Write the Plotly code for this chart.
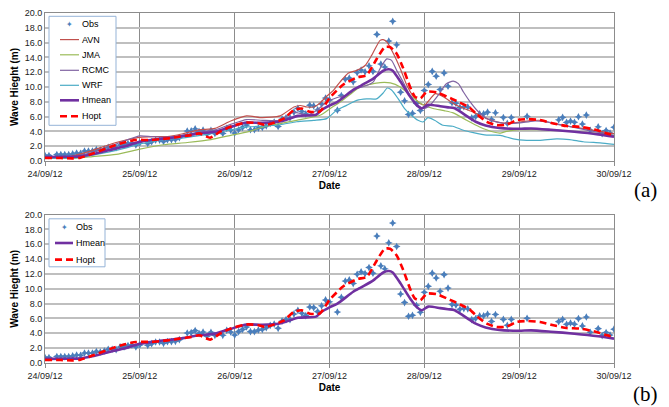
import pandas as pd
import plotly.graph_objects as go

BASE = pd.Timestamp("2012-09-24 00:00")

obs_h = [0, 1, 3, 4, 5, 6, 7, 8, 9, 10, 11, 12, 13, 14, 15, 16, 17, 18, 19, 20, 21, 22, 23, 24,
         26, 27, 28, 29, 30, 31, 32, 33, 34, 36, 37, 38, 39, 40, 41, 42, 43, 45, 46, 47, 48, 49,
         50, 51, 52, 53, 54, 55, 56, 57, 58, 59, 60, 61, 62, 63, 64, 65, 66, 67, 68, 69, 70, 71,
         72, 74, 75, 76, 77, 78, 79, 80, 81, 82, 83, 84, 85, 86, 87, 88, 89, 90, 91, 92, 93, 94,
         95, 96, 97, 98, 99, 100, 101, 102, 103, 104, 105, 106, 107, 108, 109, 110, 111, 112,
         113, 114, 116, 117, 118, 122, 130, 131, 132, 133, 134, 135, 136, 137, 138, 140, 141,
         142, 143, 144]
obs_v = [0.73, 0.73, 0.86, 0.86, 0.86, 0.86, 0.95, 1.08, 1.03, 1.35, 1.35, 1.35, 1.53, 1.48,
         1.62, 1.85, 1.85, 1.80, 2.16, 2.16, 2.34, 2.43, 2.16, 2.43,
         2.38, 2.61, 2.83, 2.83, 2.65, 2.87, 2.87, 2.92, 3.15, 4.04, 4.09, 4.36, 3.96, 4.18, 3.60,
         4.13, 3.73, 3.73, 4.40, 4.18, 3.77, 4.22,
         4.53, 4.85, 4.22, 4.22, 4.45, 4.53, 4.76, 5.07, 5.25, 4.67, 5.66, 5.84, 5.84, 6.60, 7.10,
         6.69, 6.38, 7.55, 7.45, 6.92, 7.70, 8.50,
         8.25, 6.87, 8.85, 11.05, 11.20, 10.70, 11.95, 12.30, 12.05, 12.86, 12.10, 17.10, 13.10,
         12.70, 16.20, 18.87, 15.70, 9.30, 8.14, 6.30, 6.43, 7.78,
         6.83, 9.53, 10.34, 12.10, 11.46, 9.66, 11.90, 10.10, 7.87, 7.80, 7.24, 7.33, 7.30, 5.84,
         6.00, 6.36, 6.36, 6.60,
         5.60, 6.52, 5.87, 5.08, 5.87, 6.02, 5.57, 5.89, 5.21, 5.39, 5.23, 5.98, 5.00, 6.20, 4.14,
         4.62, 3.69, 4.10, 3.77, 4.56]

avn_h = [0, 6, 10, 14, 18, 21, 24, 27, 31, 35, 39, 43, 47, 51, 55, 59.5, 63, 64.6, 66.3, 68,
         69.6, 71.3, 73, 74.7, 76.8, 78.9, 81, 82.7, 84.8, 85.6, 86.5, 88.2, 89.9, 91.6, 93.3,
         95, 96.2, 97.5, 98.8, 100.9, 103.4, 105.1, 108.4, 111.8, 115.2, 118.5, 121.9, 125.3,
         128.7, 133.7, 138.8, 144]
avn_v = [0.5, 0.6, 1.1, 1.8, 2.5, 2.9, 3.2, 3.3, 3.3, 3.7, 4.2, 4.4, 5.4, 6.1, 5.85, 6.1, 7.3,
         7.5, 7.3, 7.3, 7.84, 8.75, 9.55, 10.7, 11.9, 12.25, 12.9, 14.3, 16.3, 16.4, 16.1, 14.5,
         12.5, 10.2, 8.65, 7.75, 7.6, 8.4, 9.1, 8.65, 7.75, 7.3, 6.6, 5.73, 5.19, 5.14, 5.4, 5.5,
         5.05, 4.6, 4.15, 3.7]

jma_h = [0, 8, 12, 18, 24, 30, 36, 42, 47, 51, 55.3, 59.5, 63.7, 69.6, 72.2, 74.7, 77.2, 79.8,
         82.3, 84.8, 87.4, 89.9, 92.4, 94, 95.7, 98.2, 101, 103.3, 106.7, 110, 113.5, 115.2,
         116.8, 120.2, 125.3, 130.4, 135.4, 140.5, 144]
jma_v = [0.35, 0.4, 0.6, 0.9, 1.6, 2.2, 2.5, 2.9, 3.47, 3.9, 4.6, 5.05, 5.5, 6.18, 7.1, 7.98,
         9.0, 10.0, 10.36, 10.6, 10.55, 10.0, 8.9, 8.2, 7.6, 7.1, 6.8, 6.5, 5.5, 4.6, 3.92, 3.78,
         4.0, 4.23, 4.23, 4.14, 3.92, 3.7, 3.47]

rcmc_h = [0, 6, 10, 14, 18, 21, 24, 27, 31, 35, 39, 43, 47, 51, 55, 59.5, 62.9, 66.3, 68.8,
          71.3, 73.8, 76.3, 78.9, 81.4, 83.1, 84.8, 86.5, 87.7, 89, 90.6, 92.3, 94, 95.7, 96.9,
          98.2, 99.8, 101.5, 103.3, 104.6, 105.9, 107.6, 109.3, 111.8, 114.3, 116.8, 120.2,
          123.6, 127, 131.2, 135.4, 139.6, 144]
rcmc_v = [0.45, 0.5, 0.9, 1.5, 2.3, 2.9, 3.4, 3.3, 3.2, 3.5, 3.9, 4.2, 4.95, 5.6, 5.5, 5.5, 6.6,
          6.2, 6.85, 8.0, 8.55, 8.9, 9.8, 10.2, 10.7, 12.5, 13.8, 13.6, 12.25, 10.7, 8.9, 7.75,
          7.1, 7.3, 8.0, 9.1, 10.4, 10.8, 10.45, 9.33, 7.98, 6.86, 5.73, 5.28, 5.05, 5.14, 5.4,
          5.28, 4.82, 4.37, 3.92, 3.47]

wrf_h = [0, 8, 12, 16, 20, 24, 30, 36, 42, 47, 51, 55.3, 59.5, 63.7, 68, 71.3, 73.8, 76.3,
         78.9, 81.4, 83.9, 85.6, 86.6, 87.7, 89.4, 91, 92.7, 94.4, 95.7, 96.9, 98.6, 100.7,
         103.2, 105.9, 108.4, 111.8, 115.2, 118.5, 121.9, 125.3, 129.5, 132.8, 136.2, 140.5, 144]
wrf_v = [0.4, 0.45, 0.8, 1.2, 1.7, 2.3, 2.9, 3.2, 3.7, 4.2, 4.6, 4.7, 4.9, 5.3, 5.5, 5.73, 6.85,
         7.52, 8.2, 8.4, 8.4, 9.2, 9.86, 9.6, 8.4, 7.07, 6.18, 5.5, 5.28, 5.86, 5.5, 4.83, 4.7,
         4.15, 3.83, 3.5, 3.47, 3.0, 2.8, 2.8, 3.0, 2.9, 2.6, 2.45, 2.26]

hmean_h = [0, 6, 9, 12, 16, 20, 24, 29, 34, 39, 43, 47, 51, 55, 60, 64, 68.6, 70, 72, 74, 78,
           80, 83, 85.6, 87, 88, 90, 92.4, 94, 95.3, 97, 100, 102, 103.5, 105, 107.5, 109,
           111.5, 115, 120, 123, 128, 134, 140, 144]
hmean_v = [0.55, 0.58, 0.62, 0.9, 1.45, 1.95, 2.6, 2.97, 3.28, 3.73, 3.96, 4.6, 5.2, 5.15, 5.4,
           6.1, 6.25, 6.9, 7.5, 8.0, 9.6, 10.2, 11.1, 12.2, 12.4, 12.2, 10.7, 8.7, 7.6, 7.1, 7.6,
           7.4, 7.25, 7.15, 6.7, 5.8, 5.3, 4.8, 4.45, 4.35, 4.4, 4.22, 3.95, 3.6, 3.28]

hopt_h = [0, 4, 7, 9, 12, 16.5, 20, 23, 27, 31, 34, 37, 39, 41.8, 44.3, 47, 51, 54, 55.7, 57.4,
          60.5, 63, 65, 67, 69.6, 72, 75.5, 79, 81.4, 84, 86, 87.3, 89, 90.6, 92.4, 93.6, 95,
          96.6, 99.2, 101.7, 103, 105, 107.5, 109.3, 111.8, 114.3, 116.8, 119.4, 122, 125.3,
          128.7, 132, 135.4, 139.6, 142.2, 144]
hopt_v = [0.4, 0.4, 0.35, 0.45, 1.0, 1.9, 2.5, 2.83, 2.85, 3.05, 3.28, 3.5, 3.73, 3.15, 3.96,
          4.65, 5.2, 5.1, 4.85, 5.07, 5.75, 6.9, 7.1, 6.65, 6.7, 8.5, 10.34, 11.3, 11.6, 13.85,
          15.4, 15.4, 14.5, 12.6, 10.0, 8.7, 8.45, 9.35, 9.26, 8.7, 8.4, 7.9, 7.2, 6.3, 5.3,
          4.85, 4.9, 5.53, 5.66, 5.53, 5.08, 4.72, 4.63, 4.18, 3.73, 3.5]

y_ticks = [0, 2, 4, 6, 8, 10, 12, 14, 16, 18, 20]
day_ticks = ["2012-09-24", "2012-09-25", "2012-09-26", "2012-09-27", "2012-09-28",
             "2012-09-29", "2012-09-30"]
panel_labels = ["(a)", "(b)"]

# series styles (name -> colour, width, dash)
DASH = "7px,4px"
STYLE = {
    "AVN": ("#C0504D", 1.2, "solid"),
    "JMA": ("#9BBB59", 1.2, "solid"),
    "RCMC": ("#8064A2", 1.2, "solid"),
    "WRF": ("#4BACC6", 1.2, "solid"),
    "Hmean": ("#7030A0", 2.6, "solid"),
    "Hopt": ("#FF0000", 2.6, DASH),
}
OBS_COLOR = "#4A7EBB"


def t(hours):
    return BASE + pd.to_timedelta(hours, unit="h")


FONT = "Liberation Sans"
W, H = 669, 407
ML, MR, MT, MB = 45, 55, 12.7, 44.3
PW, PH = W - ML - MR, H - MT - MB


def xp(px):
    return (px - ML) / PW


def yp(py):
    return (H - MB - py) / PH


fig = go.Figure()


def add_obs(xa, ya):
    fig.add_trace(go.Scatter(x=t(obs_h), y=obs_v, mode="markers", name="Obs",
                             marker=dict(symbol="star-diamond", size=5.5, color=OBS_COLOR),
                             xaxis=xa, yaxis=ya))


def add_line(h, v, name, xa, ya):
    c, w, d = STYLE[name]
    fig.add_trace(go.Scatter(x=t(h), y=v, mode="lines", name=name,
                             line=dict(color=c, width=w, dash=d, shape="spline", smoothing=0.6),
                             xaxis=xa, yaxis=ya))


# panel (a)
add_obs("x", "y")
add_line(avn_h, avn_v, "AVN", "x", "y")
add_line(jma_h, jma_v, "JMA", "x", "y")
add_line(rcmc_h, rcmc_v, "RCMC", "x", "y")
add_line(wrf_h, wrf_v, "WRF", "x", "y")
add_line(hmean_h, hmean_v, "Hmean", "x", "y")
add_line(hopt_h, hopt_v, "Hopt", "x", "y")

# panel (b)
add_obs("x2", "y2")
add_line(hmean_h, hmean_v, "Hmean", "x2", "y2")
add_line(hopt_h, hopt_v, "Hopt", "x2", "y2")

ydom_a = [yp(160.7), yp(12.7)]
ydom_b = [yp(362.7), yp(214.3)]

xcommon = dict(type="date", range=[day_ticks[0], day_ticks[-1]], tickvals=day_ticks,
               tickformat="%d/%m/%y", showgrid=True, gridcolor="#8C8C8C", gridwidth=1,
               showline=True, linecolor="#8C8C8C", linewidth=1, mirror=True,
               ticks="outside", ticklen=4, tickcolor="#8C8C8C", automargin=False,
               tickfont=dict(family=FONT, size=9, color="#222"), zeroline=False)
ycommon = dict(range=[0, 20], tickvals=y_ticks, tickformat=".1f", showgrid=True,
               gridcolor="#BFBFBF", gridwidth=1.5, showline=True, linecolor="#8C8C8C",
               mirror=True, ticks="", zeroline=False, automargin=False,
               tickfont=dict(family=FONT, size=9, color="#222"))
title_font = dict(family=FONT, size=10, color="#000")

fig.update_layout(
    width=W, height=H, margin=dict(l=ML, r=MR, t=MT, b=MB, pad=0),
    paper_bgcolor="white", plot_bgcolor="white",
    font=dict(family=FONT, size=9, color="#000"),
    showlegend=False,
    xaxis=dict(domain=[0, 1], anchor="y", **xcommon,
               title=dict(text="<b>Date</b>", font=title_font, standoff=4)),
    yaxis=dict(domain=ydom_a, anchor="x", **ycommon,
               title=dict(text="<b>Wave Hieght (m)</b>", font=title_font, standoff=4)),
    xaxis2=dict(domain=[0, 1], anchor="y2", **xcommon,
                title=dict(text="<b>Date</b>", font=title_font, standoff=4)),
    yaxis2=dict(domain=ydom_b, anchor="x2", **ycommon,
                title=dict(text="<b>Wave Hieght (m)</b>", font=title_font, standoff=4)),
)

# ---- hand-drawn legends (Excel style) ----
shapes = []
annots = []


def legend_box(x0, y0, x1, y1, entries, line_x0, line_x1, text_x):
    shapes.append(dict(type="rect", xref="paper", yref="paper", x0=xp(x0), x1=xp(x1),
                       y0=yp(y1), y1=yp(y0), line=dict(color="#95B3D7", width=1),
                       fillcolor="white", layer="above"))
    for name, ypx in entries:
        if name == "Obs":
            annots.append(dict(text="✦", x=xp((line_x0 + line_x1) / 2), y=yp(ypx),
                               xref="paper", yref="paper", showarrow=False,
                               xanchor="center", yanchor="middle",
                               font=dict(family="DejaVu Sans", size=8, color=OBS_COLOR)))
        else:
            c, w, d = STYLE[name]
            shapes.append(dict(type="line", xref="paper", yref="paper",
                               x0=xp(line_x0), x1=xp(line_x1), y0=yp(ypx), y1=yp(ypx),
                               line=dict(color=c, width=w, dash=d),
                               layer="above"))
        annots.append(dict(text=name, x=xp(text_x), y=yp(ypx), xref="paper", yref="paper",
                           xanchor="left", yanchor="middle", showarrow=False,
                           font=dict(family=FONT, size=9, color="#000")))


legend_box(49, 16, 116, 125,
           [("Obs", 24), ("AVN", 39.3), ("JMA", 54.5), ("RCMC", 70), ("WRF", 85),
            ("Hmean", 100), ("Hopt", 116)], 60, 79, 80)
legend_box(49, 218.5, 105, 266.5,
           [("Obs", 226.7), ("Hmean", 242.7), ("Hopt", 259.3)], 55, 73, 74)

annots.append(dict(text=panel_labels[0], x=xp(645), y=yp(190), xref="paper", yref="paper",
                   xanchor="center", yanchor="middle", showarrow=False,
                   font=dict(family="Liberation Serif", size=21, color="#000")))
annots.append(dict(text=panel_labels[1], x=xp(645), y=yp(394), xref="paper", yref="paper",
                   xanchor="center", yanchor="middle", showarrow=False,
                   font=dict(family="Liberation Serif", size=21, color="#000")))

fig.update_layout(shapes=shapes, annotations=annots)

fig.write_html("out.html")
